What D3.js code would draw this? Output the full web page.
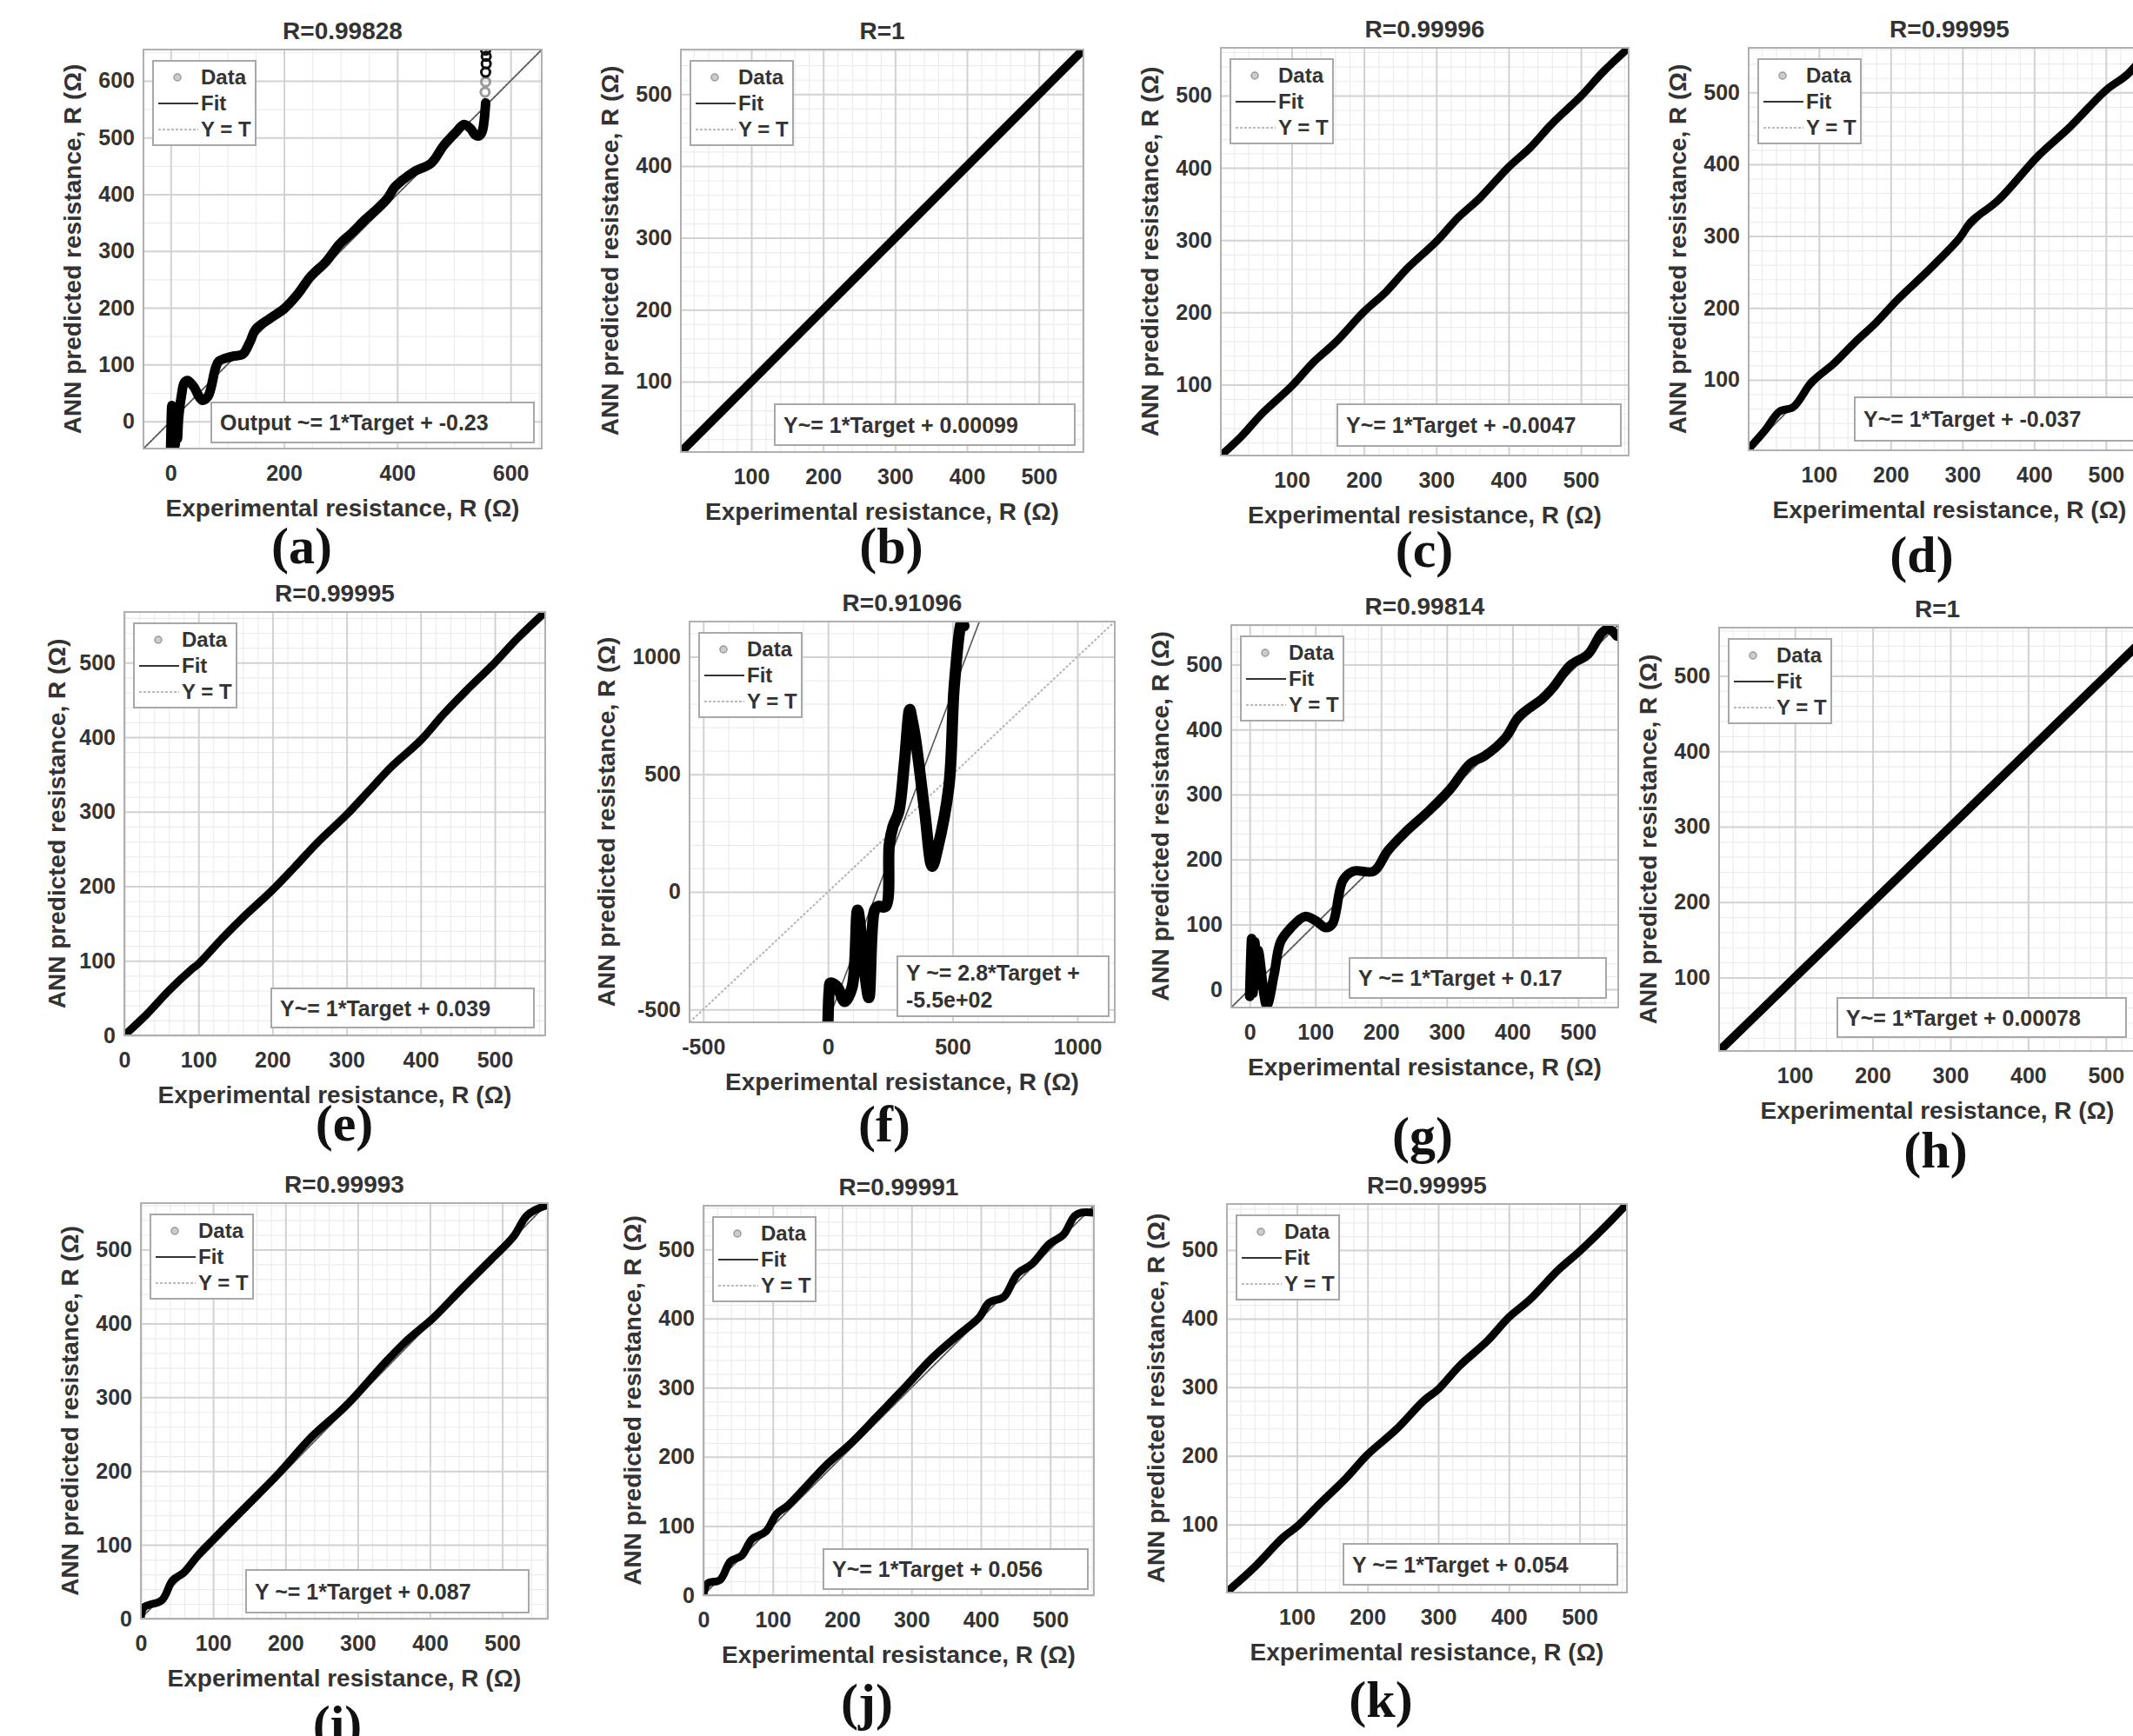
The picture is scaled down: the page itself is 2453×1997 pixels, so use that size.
<!DOCTYPE html>
<html>
<head>
<meta charset="utf-8">
<script src="https://cdn.jsdelivr.net/npm/d3@7"></script>
<style>
  body { margin: 0; background: #fff; }
  svg text { font-family: 'Liberation Sans', Arial, sans-serif; font-weight: bold; fill: #333; }
  .letra { font-family: 'Liberation Serif', 'Times New Roman', serif; fill: #111; }
</style>
</head>
<body>
<svg id="graf" width="2453" height="1997"></svg>
<script>
// I.
const letters = ['(a)', '(b)', '(c)', '(d)', '(e)', '(f)', '(g)', '(h)', '(i)', '(j)', '(k)']
const titles = ['R=0.99828', 'R=1', 'R=0.99996', 'R=0.99995', 'R=0.99995', 'R=0.91096',
                'R=0.99814', 'R=1', 'R=0.99993', 'R=0.99991', 'R=0.99995']
const equations = [
  ['Output ~= 1*Target + -0.23'],
  ['Y~= 1*Target + 0.00099'],
  ['Y~= 1*Target + -0.0047'],
  ['Y~= 1*Target + -0.037'],
  ['Y~= 1*Target + 0.039'],
  ['Y ~= 2.8*Target +', '-5.5e+02'],
  ['Y ~= 1*Target + 0.17'],
  ['Y~= 1*Target + 0.00078'],
  ['Y ~= 1*Target + 0.087'],
  ['Y~= 1*Target + 0.056'],
  ['Y ~= 1*Target + 0.054']
]
const fitSlope = [1, 1, 1, 1, 1, 2.8, 1, 1, 1, 1, 1]
const fitIntercept = [-0.23, 0.00099, -0.0047, -0.037, 0.039, -550, 0.17, 0.00078, 0.087, 0.056, 0.054]
const axisMin = [-48, 2, 2, 2, 0, -555, -28, 2.5, 0, 0, 1]
const axisMax = [655, 562, 566, 562, 568, 1150, 561, 564, 563, 563, 567]

const ticks100 = [100, 200, 300, 400, 500]
const ticks0 = [0, 100, 200, 300, 400, 500]
const xTicks = [[0, 200, 400, 600], ticks100, ticks100, ticks100, ticks0, [-500, 0, 500, 1000],
                ticks0, ticks100, ticks0, ticks0, ticks100]
const yTicks = [[0, 100, 200, 300, 400, 500, 600], ticks100, ticks100, ticks100, ticks0, [-500, 0, 500, 1000],
                ticks0, ticks100, ticks0, ticks0, ticks100]

// series: target (experimental) vs output (ANN)
const targetA = [0, 2, 4, 6, 8, 10, 12, 14, 19, 24, 30, 40, 56, 66, 79, 85, 100, 111, 127, 140, 150, 175, 201, 225,
                 247, 275, 298, 320, 343, 360, 382, 395, 408, 430, 460, 482, 505, 518, 530, 537, 545, 550, 556]
const outputA = [-46, 28, -45, 25, -42, 22, -30, 5, 45, 68, 72, 62, 37, 44, 93, 106, 112, 115, 118, 140, 162, 181, 199, 225,
                 255, 282, 312, 332, 355, 370, 392, 412, 424, 440, 455, 486, 511, 523, 515, 505, 503, 511, 561]
const outlierXA = [555, 556, 556, 557, 557, 556]
const outlierYA = [580, 598, 615, 630, 643, 654]

const targetB = [2, 100, 200, 300, 400, 500, 562]
const outputB = [2, 100, 200, 300, 400, 500, 562]

const targetC = [2, 30, 60, 100, 130, 160, 200, 230, 260, 300, 330, 360, 400, 430, 460, 500, 530, 566]
const outputC = [2, 28, 61, 98, 131, 158, 201, 228, 261, 298, 331, 358, 401, 428, 461, 499, 532, 566]

const targetD = [2, 25, 45, 64, 90, 120, 150, 180, 210, 250, 295, 312, 350, 406, 450, 500, 530, 562]
const outputD = [4, 30, 56, 62, 97, 122, 152, 180, 212, 250, 296, 320, 350, 412, 452, 503, 525, 562]

const targetE = [0, 30, 60, 90, 100, 130, 160, 200, 230, 260, 300, 330, 360, 400, 430, 460, 500, 530, 568]
const outputE = [0, 28, 60, 88, 96, 128, 158, 195, 226, 258, 296, 328, 360, 396, 430, 461, 500, 532, 568]

const targetF = [0, 2, 5, 10, 37, 67, 97, 119, 149, 164, 187, 201, 231, 246, 261, 284, 306, 328, 336, 351,
                 388, 418, 440, 485, 507, 537, 545]
const outputF = [-559, -480, -420, -388, -404, -466, -404, -78, -357, -450, -78, -62, -62, 202, 279, 341, 543, 776, 740, 652,
                 341, 109, 186, 450, 884, 1148, 1132]

const targetG = [0, 3, 5, 8, 10, 13, 26, 37, 47, 63, 84, 100, 116, 126, 142, 158, 189, 210, 236, 273, 305,
                 336, 357, 389, 410, 446, 462, 488, 515, 536, 546, 559]
const outputG = [-11, 78, -6, 73, 6, 60, -25, 22, 73, 95, 112, 106, 95, 101, 168, 182, 182, 213, 241, 275, 308,
                 348, 359, 387, 420, 448, 465, 499, 516, 549, 555, 544]

const targetH = [2.5, 100, 200, 300, 400, 500, 564]
const outputH = [2.5, 100, 200, 300, 400, 500, 564]

const targetI = [0, 4, 29, 44, 59, 80, 100, 120, 161, 191, 237, 277, 297, 338, 368, 404, 444, 485, 515, 535, 561]
const outputI = [0, 15, 25, 52, 62, 87, 107, 127, 167, 197, 247, 282, 302, 347, 377, 407, 447, 487, 517, 547, 560]

const targetJ = [0, 6, 24, 39, 55, 70, 90, 106, 121, 147, 177, 213, 249, 290, 330, 366, 397, 412, 433, 453,
                 474, 499, 519, 535, 545, 563]
const outputJ = [1, 17, 22, 49, 57, 81, 92, 118, 129, 156, 188, 220, 257, 300, 343, 375, 401, 423, 431, 465,
                 479, 508, 521, 548, 553, 553]

const targetK = [1, 40, 80, 100, 130, 170, 200, 240, 280, 300, 330, 370, 400, 430, 470, 500, 540, 567]
const outputK = [2, 38, 81, 97, 128, 168, 202, 238, 281, 297, 331, 368, 402, 428, 471, 498, 538, 567]

const targets = [targetA, targetB, targetC, targetD, targetE, targetF, targetG, targetH, targetI, targetJ, targetK]
const outputs = [outputA, outputB, outputC, outputD, outputE, outputF, outputG, outputH, outputI, outputJ, outputK]

// II. Disposición de cada panel
const layout = [
  { left: 165,  top: 57,   w: 458, h: 459, eq: [243, 463, 614, 509],    letter: [347, 648],  lw: 11, minor: [50, 50], ylab: -72 },
  { left: 783,  top: 57,   w: 463, h: 463, eq: [891, 465, 1236, 512],   letter: [1025, 648], lw: 10, minor: [20, 20], ylab: -72 },
  { left: 1404, top: 55,   w: 469, h: 469, eq: [1538, 465, 1864, 513],  letter: [1638, 652], lw: 9,  minor: [20, 20], ylab: -72 },
  { left: 2011, top: 55,   w: 462, h: 463, eq: [2133, 457, 2480, 507],  letter: [2210, 658], lw: 9,  minor: [20, 20], ylab: -72 },
  { left: 143,  top: 704,  w: 484, h: 487, eq: [312, 1137, 614, 1182],  letter: [396, 1312], lw: 9,  minor: [20, 20], ylab: -68 },
  { left: 793,  top: 715,  w: 489, h: 461, eq: [1032, 1100, 1275, 1169], letter: [1017, 1313], lw: 13, minor: [100, 100], ylab: -86 },
  { left: 1416, top: 719,  w: 445, h: 440, eq: [1552, 1102, 1847, 1148], letter: [1636, 1326], lw: 11, minor: [20, 20], ylab: -72 },
  { left: 1977, top: 722,  w: 502, h: 487, eq: [2113, 1148, 2445, 1193], letter: [2226, 1343], lw: 10, minor: [20, 20], ylab: -72 },
  { left: 162,  top: 1384, w: 468, h: 478, eq: [283, 1806, 608, 1855],  letter: [388, 2003], lw: 9,  minor: [20, 20], ylab: -72 },
  { left: 809,  top: 1387, w: 449, h: 448, eq: [947, 1782, 1251, 1828], letter: [997, 1978], lw: 9,  minor: [20, 20], ylab: -72 },
  { left: 1411, top: 1385, w: 460, h: 447, eq: [1545, 1776, 1860, 1823], letter: [1588, 1975], lw: 9,  minor: [20, 20], ylab: -72 }
]

svg = d3.select('#graf')
defs = svg.append('defs')

function gridValues(min, max, step) {
  return d3.range(Math.ceil(min / step) * step, max + 0.001, step)
}

function render(i) {
  L = layout[i]
  const x = d3.scaleLinear().domain([axisMin[i], axisMax[i]]).range([0, L.w])
  const y = d3.scaleLinear().domain([axisMin[i], axisMax[i]]).range([L.h, 0])

  defs.append('clipPath').attr('id', `clip${i}`)
      .append('rect').attr('width', L.w).attr('height', L.h)

  const g = svg.append('g').attr('transform', `translate(${L.left}, ${L.top})`)

  // rejilla menor y mayor
  g.append('g').attr('transform', `translate(0, ${L.h})`)
    .call(d3.axisBottom(x).tickValues(gridValues(axisMin[i], axisMax[i], L.minor[0])).tickSize(-L.h).tickFormat(''))
    .call(a => a.selectAll('line').attr('stroke', '#ececec').attr('stroke-width', 1.2))
    .call(a => a.select('.domain').remove())
  g.append('g')
    .call(d3.axisLeft(y).tickValues(gridValues(axisMin[i], axisMax[i], L.minor[1])).tickSize(-L.w).tickFormat(''))
    .call(a => a.selectAll('line').attr('stroke', '#ececec').attr('stroke-width', 1.2))
    .call(a => a.select('.domain').remove())

  g.append('g').attr('transform', `translate(0, ${L.h})`)
    .call(d3.axisBottom(x).tickValues(xTicks[i]).tickSize(-L.h).tickPadding(19).tickFormat(d => String(d)))
    .call(a => a.selectAll('line').attr('stroke', '#d2d2d2').attr('stroke-width', 2))
    .call(a => a.select('.domain').remove())
    .call(a => a.selectAll('text').attr('font-size', 25).attr('fill', '#333').attr('font-family', null))
  g.append('g')
    .call(d3.axisLeft(y).tickValues(yTicks[i]).tickSize(-L.w).tickPadding(10).tickFormat(d => String(d)))
    .call(a => a.selectAll('line').attr('stroke', '#d2d2d2').attr('stroke-width', 2))
    .call(a => a.select('.domain').remove())
    .call(a => a.selectAll('text').attr('font-size', 25).attr('fill', '#333').attr('font-family', null))

  const plot = g.append('g').attr('clip-path', `url(#clip${i})`)

  // Y = T
  plot.append('line')
      .attr('x1', x(axisMin[i])).attr('y1', y(axisMin[i]))
      .attr('x2', x(axisMax[i])).attr('y2', y(axisMax[i]))
      .attr('stroke', '#b5b5b5').attr('stroke-width', 2).attr('stroke-dasharray', '3,2')

  // Fit
  const fx = [axisMin[i], axisMax[i]]
  plot.append('line')
      .attr('x1', x(fx[0])).attr('y1', y(fitSlope[i] * fx[0] + fitIntercept[i]))
      .attr('x2', x(fx[1])).attr('y2', y(fitSlope[i] * fx[1] + fitIntercept[i]))
      .attr('stroke', '#555').attr('stroke-width', 1.6)

  // Data
  const pts = targets[i].map((t, k) => [t, outputs[i][k]])
  plot.append('path')
      .datum(pts)
      .attr('d', d3.line().x(d => x(d[0])).y(d => y(d[1])).curve(d3.curveCatmullRom.alpha(0.5)))
      .attr('fill', 'none').attr('stroke', '#000')
      .attr('stroke-width', L.lw).attr('stroke-linejoin', 'round').attr('stroke-linecap', 'round')

  if (i === 0) {
    plot.selectAll('circle.out')
        .data(outlierXA.map((v, k) => [v, outlierYA[k]]))
        .enter().append('circle')
        .attr('cx', d => x(d[0])).attr('cy', d => y(d[1])).attr('r', 5)
        .attr('fill', 'none').attr('stroke', (d, k) => k < 2 ? '#999' : '#111').attr('stroke-width', 3)
  }

  // marco
  g.append('rect').attr('width', L.w).attr('height', L.h)
   .attr('fill', 'none').attr('stroke', '#b0b0b0').attr('stroke-width', 2)

  // leyenda
  const lg = g.append('g').attr('transform', 'translate(11, 13)')
  lg.append('rect').attr('width', 118).attr('height', 97)
    .attr('fill', '#fff').attr('stroke', '#a8a8a8').attr('stroke-width', 2)
  lg.append('circle').attr('cx', 28).attr('cy', 19).attr('r', 4)
    .attr('fill', '#ccc').attr('stroke', '#999').attr('stroke-width', 1.5)
  lg.append('line').attr('x1', 6).attr('x2', 52).attr('y1', 49).attr('y2', 49)
    .attr('stroke', '#333').attr('stroke-width', 2)
  lg.append('line').attr('x1', 6).attr('x2', 52).attr('y1', 79).attr('y2', 79)
    .attr('stroke', '#bbb').attr('stroke-width', 2).attr('stroke-dasharray', '3,2')
  lg.selectAll('text.ley').data(['Data', 'Fit', 'Y = T']).enter()
    .append('text').attr('x', 55).attr('y', (d, k) => 27 + k * 30)
    .attr('font-size', 24).text(d => d)

  // títulos y etiquetas
  g.append('text').attr('x', L.w / 2).attr('y', -12)
   .attr('text-anchor', 'middle').attr('font-size', 28).attr('fill', '#222').text(titles[i])
  g.append('text').attr('x', L.w / 2).attr('y', L.h + 78)
   .attr('text-anchor', 'middle').attr('font-size', 28).attr('fill', '#3a3a3a')
   .text('Experimental resistance, R (Ω)')
  g.append('text')
   .attr('transform', `translate(${L.ylab}, ${L.h / 2}) rotate(-90)`)
   .attr('text-anchor', 'middle').attr('font-size', 28).attr('fill', '#3a3a3a')
   .text('ANN predicted resistance, R (Ω)')

  // caja de la ecuación
  const e = L.eq
  svg.append('rect').attr('x', e[0]).attr('y', e[1]).attr('width', e[2] - e[0]).attr('height', e[3] - e[1])
     .attr('fill', '#fff').attr('stroke', '#a8a8a8').attr('stroke-width', 2)
  const nl = equations[i].length
  equations[i].forEach((s, k) => {
    svg.append('text').attr('x', e[0] + 10)
       .attr('y', (e[1] + e[3]) / 2 + 9 + (k - (nl - 1) / 2) * 31)
       .attr('font-size', 25).attr('fill', '#222').text(s)
  })

  svg.append('text').attr('class', 'letra')
     .attr('x', L.letter[0]).attr('y', L.letter[1])
     .attr('text-anchor', 'middle').attr('font-size', 60).text(letters[i])
}

letters.forEach((d, i) => render(i))
</script>
</body>
</html>
